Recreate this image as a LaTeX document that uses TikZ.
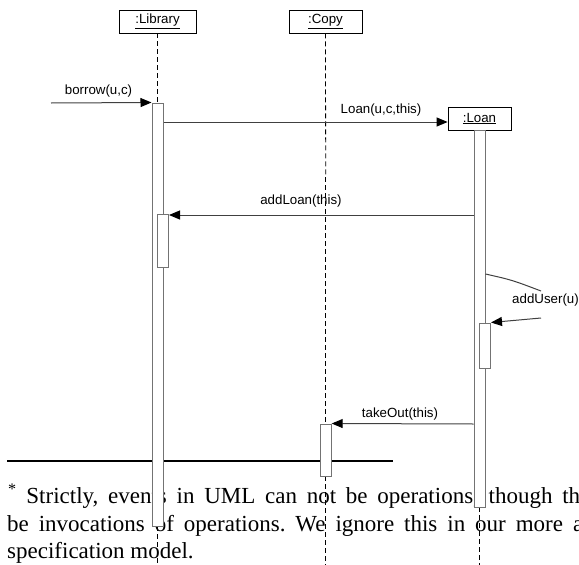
\documentclass[tikz,border=0pt]{standalone}
\usepackage{fontspec}
\setmainfont{Liberation Serif}
\newfontfamily\diagfont{Liberation Sans}
\usetikzlibrary{arrows.meta}
\frenchspacing
\begin{document}
\begin{tikzpicture}[x=1pt,y=-1pt,
  obj/.style={draw=black, line width=0.8pt, fill=white, minimum height=23pt, inner sep=0pt,
    font=\diagfont\fontsize{13.3}{15}\selectfont},
  life/.style={black, line width=0.8pt, dash pattern=on 5pt off 3pt},
  lifethick/.style={black, line width=1.5pt, dash pattern=on 5pt off 3pt},
  act/.style={draw=black!55, line width=1pt, fill=white, minimum width=11pt, inner sep=0pt},
  msg/.style={black!75, line width=1pt, -{Triangle[length=11pt,width=9pt,color=black]}},
  lbl/.style={font=\diagfont\fontsize{13.3}{15}\selectfont, inner sep=0pt},
  note/.style={font=\fontsize{23}{27.5}\selectfont, inner sep=0pt, anchor=base west}]
\path[use as bounding box] (0,0) rectangle (579,565);
\clip (0,0) rectangle (579,565);

% object boxes
\node[obj, minimum width=77pt] (lib) at (157.5,21.5) {\underline{:Library}};
\node[obj, minimum width=73pt] (copy) at (325.5,21.5) {\underline{:Copy}};
\node[obj, minimum width=63pt] (loan) at (479.5,118.5) {\underline{:Loan}};

\coordinate (libtop) at (157.5,103);
\coordinate (copytop) at (325.7,424);
\coordinate (copymid) at (325.7,177);

% lifelines
\draw[life] (lib.south) -- (libtop);
\draw[life] (157.5,526) -- (157.5,565);
\draw[life] (copy.south) -- (copymid);
\draw[lifethick] (copymid) -- (copytop);
\draw[lifethick] (325.7,476) -- (325.7,565);
\draw[life] (479.5,507) -- (479.5,565);

% footnote
\coordinate (ruleA) at (7,461);
\coordinate (ruleB) at (393,461);
\draw[line width=2pt] (ruleA) -- (ruleB);
\node[note] (n1) at (8,503.5) {\hbox to 572pt{\textsuperscript{*}\hspace{0.3em plus 2pt}Strictly, events in UML can not be operations, though th}};
\node[note] (n2) at (7,531) {\hbox to 576pt{be invocations of operations. We ignore this in our more a}};
\node[note] (n3) at (7,558.5) {specification model.};

% activation bars
\node[act, minimum height=423pt] (libbar) at (157.5,314.5) {};
\node[act, minimum height=53pt] (libbar2) at (163,240.5) {};
\node[act, minimum height=377pt] (loanbar) at (479.5,318.5) {};
\node[act, minimum height=45pt] (loanbar2) at (485,345.5) {};
\node[act, minimum height=52pt] (copybar) at (325.7,450) {};

% messages
\coordinate (bstart) at (51,103);
\draw[msg] (bstart) -- (libbar.north west);
\node[lbl] (lborrow) at (98.5,91.5) {borrow(u,c)};

\coordinate (y2) at (0,122);
\draw[msg] (y2 -| libbar.east) -- (y2 -| loan.west);
\node[lbl] (lloan) at (381,110) {Loan(u,c,this)};

\coordinate (y3) at (0,215);
\draw[msg] (y3 -| loanbar.west) -- (y3 -| libbar2.east);
\node[lbl] (laddloan) at (301,201.5) {addLoan(this)};

\coordinate (uA) at (541,291);
\coordinate (uB) at (541,318);
\draw[black!75, line width=1pt] (loanbar.east |- 0,274) .. controls (512,280) .. (uA);
\node[lbl] (ladduser) at (545.5,300) {addUser(u)};
\draw[msg] (uB) -- (loanbar2.north east);

\coordinate (y5) at (0,424);
\draw[msg] (y5 -| loanbar.west) -- (copybar.north east);
\node[lbl] (ltake) at (400,414.5) {takeOut(this)};
\end{tikzpicture}
\end{document}
